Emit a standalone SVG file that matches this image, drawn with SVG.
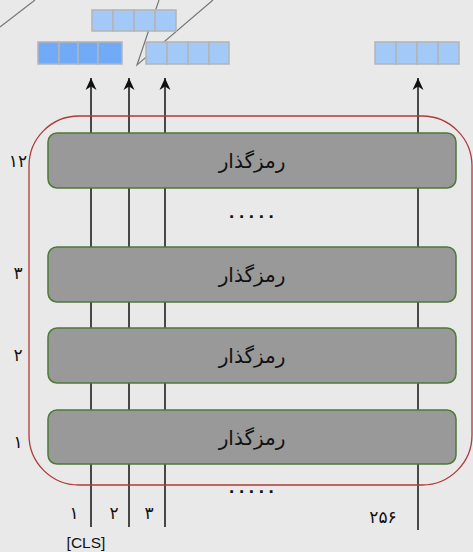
<svg xmlns="http://www.w3.org/2000/svg" width="473" height="552" viewBox="0 0 473 552">
<defs>
<style>
.cell{stroke:#b4b4b4;stroke-width:1.5}
.lt{fill:#a3c9f8}
.dk{fill:#71aaf6}
.enc{fill:#999999;stroke:#4e7a37;stroke-width:1.5}
.lbl{font-family:"DejaVu Sans",sans-serif;font-size:20px;fill:#111;text-anchor:middle}
.num{font-family:"DejaVu Sans",sans-serif;font-size:17px;fill:#111;text-anchor:middle}
.dots{font-family:"Liberation Sans",sans-serif;font-size:19px;font-weight:bold;fill:#111;letter-spacing:4.6px}
.tok{stroke:#111;stroke-width:1.5;fill:none}
</style>
<marker id="ah" markerWidth="13" markerHeight="13" refX="12" refY="5.5" orient="auto" markerUnits="userSpaceOnUse" viewBox="0 0 13 11">
<path d="M0,0 L12,5.5 L0,11 L3.5,5.5 Z" fill="#111"/>
</marker>
</defs>
<rect x="0" y="0" width="473" height="552" fill="#e9e9e9"/>
<g id="bg-lines" stroke="#777" stroke-width="1.2" fill="none">
<line x1="0" y1="27" x2="35" y2="0"/>
<polyline points="159,0 137,65 213,0"/>
</g>
<g id="outputs">
<g class="cell lt">
<rect x="92" y="10" width="21" height="21"/><rect x="113" y="10" width="21" height="21"/><rect x="134" y="10" width="21" height="21"/><rect x="155" y="10" width="21" height="21"/>
</g>
<g class="cell dk">
<rect x="38" y="42" width="21" height="22"/><rect x="59" y="42" width="19" height="22"/><rect x="78" y="42" width="20" height="22"/><rect x="98" y="42" width="24" height="22"/>
</g>
<g class="cell lt">
<rect x="146" y="42" width="21" height="22"/><rect x="167" y="42" width="21" height="22"/><rect x="188" y="42" width="21" height="22"/><rect x="209" y="42" width="20" height="22"/>
</g>
<g class="cell lt">
<rect x="375" y="42" width="21" height="22"/><rect x="396" y="42" width="21" height="22"/><rect x="417" y="42" width="21" height="22"/><rect x="438" y="42" width="21" height="22"/>
</g>
</g>
<g id="connectors">
<line class="tok" x1="91" y1="527" x2="91" y2="78" marker-end="url(#ah)"/>
<line class="tok" x1="129" y1="527" x2="129" y2="78" marker-end="url(#ah)"/>
<line class="tok" x1="165" y1="527" x2="165" y2="78" marker-end="url(#ah)"/>
<line x1="418" y1="530" x2="418" y2="78" stroke="#4a4a4a" stroke-width="2" marker-end="url(#ah)"/>
</g>
<rect id="stack" x="29" y="116" width="443" height="369" rx="50" fill="none" stroke="#b03a3a" stroke-width="1.3"/>
<g id="enc12"><rect class="enc" x="48" y="133" width="408" height="55" rx="9"/><text class="lbl" x="252" y="168">رمزگذار</text></g>
<g id="enc3"><rect class="enc" x="48" y="247" width="408" height="55" rx="9"/><text class="lbl" x="252" y="282">رمزگذار</text></g>
<g id="enc2"><rect class="enc" x="48" y="328" width="408" height="55" rx="9"/><text class="lbl" x="252" y="363">رمزگذار</text></g>
<g id="enc1"><rect class="enc" x="48" y="410" width="408" height="54" rx="9"/><text class="lbl" x="252" y="445">رمزگذار</text></g>
<g id="labels">
<text class="dots" x="229" y="218">.....</text>
<text class="dots" x="229" y="493">.....</text>
<text class="num" x="18" y="167">۱۲</text>
<text class="num" x="18" y="279">۳</text>
<text class="num" x="18" y="361">۲</text>
<text class="num" x="18" y="448">۱</text>
<text class="num" x="74" y="519">۱</text>
<text class="num" x="114" y="519">۲</text>
<text class="num" x="149" y="519">۳</text>
<text class="num" x="383" y="523">۲۵۶</text>
<text x="86" y="548" font-family="Liberation Sans,sans-serif" font-size="15.5" fill="#111" text-anchor="middle">[CLS]</text>
</g>
</svg>
